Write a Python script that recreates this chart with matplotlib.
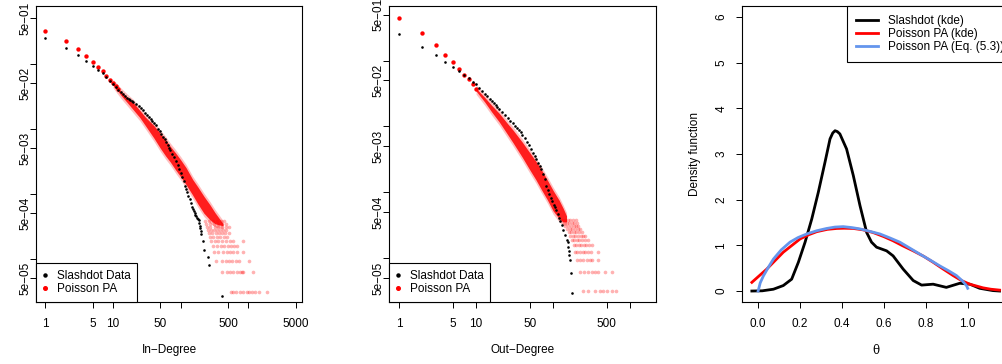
import matplotlib
matplotlib.use('Agg')
import matplotlib.pyplot as plt
import numpy as np
from matplotlib.lines import Line2D
from matplotlib.ticker import FixedLocator, FixedFormatter, NullLocator

plt.rcParams['font.family'] = ['Liberation Sans', 'DejaVu Sans']
plt.rcParams['font.size'] = 8.5

# ---------------- in-degree (log10 of fraction of nodes) ----------------
in_black_k = [1, 2, 3, 4, 5, 6, 7, 8, 9, 10,
              11, 12, 13, 14, 15, 16, 17, 18, 19, 20,
              22, 24, 26, 28, 30, 32, 34, 36, 38, 40,
              43, 46, 49, 52, 55, 58, 61, 64, 67, 70,
              75, 80, 85, 90, 95, 100, 105, 110, 115, 120, 125, 130, 135, 140, 145, 150,
              155, 160, 165, 170, 175, 180, 185, 188, 190, 193, 196, 200, 211, 223, 250, 262, 412]
in_black_lp = [-0.609, -0.763, -0.866, -0.963, -1.035, -1.092, -1.147, -1.209, -1.261, -1.312,
               -1.36, -1.40, -1.44, -1.47, -1.50, -1.52, -1.54, -1.56, -1.575, -1.59,
               -1.62, -1.65, -1.68, -1.71, -1.76, -1.79, -1.82, -1.85, -1.88, -1.91,
               -1.95, -2.00, -2.04, -2.08, -2.12, -2.16, -2.20, -2.25, -2.29, -2.33,
               -2.39, -2.44, -2.50, -2.56, -2.62, -2.68, -2.74, -2.81, -2.88, -2.93, -2.98, -3.03, -3.08, -3.14, -3.20, -3.24,
               -3.27, -3.30, -3.33, -3.35, -3.37, -3.39, -3.40, -3.45, -3.50, -3.53, -3.58, -3.62, -3.72, -3.87, -3.97, -4.10, -4.57]
in_red_k = [1, 2, 3, 4, 5, 6, 7, 8, 9, 10, 11, 12]
in_red_lp = [-0.492, -0.650, -0.773, -0.881, -0.973, -1.046, -1.117, -1.184, -1.245, -1.301, -1.345, -1.385]
in_band_k = [10, 13, 16, 20, 25, 30, 40, 50, 60, 70, 85, 100, 120, 150, 180, 220, 270, 320, 370, 420]
in_band_hi = [-1.29, -1.42, -1.51, -1.60, -1.72, -1.82, -1.95, -2.07, -2.17, -2.27, -2.38, -2.48, -2.60, -2.78, -2.90, -3.04, -3.17, -3.29, -3.38, -3.46]
in_band_lo = [-1.32, -1.48, -1.59, -1.71, -1.83, -1.95, -2.14, -2.30, -2.42, -2.51, -2.64, -2.74, -2.86, -3.02, -3.16, -3.30, -3.40, -3.46, -3.48, -3.49]
in_tail_count = [12, 11, 10, 9, 8, 7, 6, 5, 4, 3, 2, 1]
in_tail_k = [
    [230, 260, 300, 340, 390, 440],
    [240, 270, 310, 350, 400, 460],
    [245, 275, 320, 360, 410, 470, 520],
    [250, 280, 310, 340, 380, 420, 470],
    [260, 290, 330, 370, 410, 450, 520],
    [270, 300, 340, 380, 430, 480],
    [280, 320, 360, 410, 470, 540, 600, 820],
    [300, 340, 390, 440, 500, 560, 620, 670],
    [310, 360, 420, 480, 540, 600, 680, 840],
    [330, 400, 460, 520, 580, 650, 720, 1030],
    [403, 478, 535, 598, 671, 751, 796, 841, 1157],
    [553, 599, 649, 751, 841, 944, 1031, 1119, 1252, 1450, 1863],
]

# ---------------- out-degree ----------------
out_black_k = [1, 2, 3, 4, 5, 6, 7, 8, 9, 10,
               11, 12, 13, 14, 15, 16, 17, 18, 19, 20,
               22, 24, 26, 28, 30, 32, 34, 36, 38, 40,
               43, 46, 49, 52, 55, 58, 61, 64, 67, 70,
               74, 78, 82, 86, 90, 94, 98, 102, 106, 110, 115, 120, 125, 130, 136, 143, 150,
               155, 157, 160, 163, 166, 171, 174]
out_black_lp = [-0.599, -0.787, -0.913, -1.015, -1.093, -1.16, -1.22, -1.27, -1.32, -1.36,
                -1.41, -1.46, -1.50, -1.54, -1.58, -1.62, -1.65, -1.68, -1.71, -1.735,
                -1.78, -1.83, -1.87, -1.91, -1.95, -1.99, -2.03, -2.06, -2.09, -2.13,
                -2.18, -2.23, -2.28, -2.34, -2.40, -2.45, -2.50, -2.55, -2.60, -2.65,
                -2.72, -2.80, -2.91, -2.96, -3.02, -3.09, -3.14, -3.19, -3.23, -3.27, -3.33, -3.39, -3.44, -3.50, -3.57, -3.65, -3.72,
                -3.76, -3.83, -3.90, -3.96, -4.03, -4.23, -4.535]
out_red_k = [1, 2, 3, 4, 5, 6, 7, 8, 9, 10]
out_red_lp = [-0.347, -0.584, -0.766, -0.909, -1.022, -1.12, -1.21, -1.28, -1.36, -1.43]
out_band_k = [10, 13, 16, 20, 25, 30, 40, 50, 60, 70, 85, 100, 120, 135, 150]
out_band_hi = [-1.42, -1.56, -1.68, -1.80, -1.94, -2.05, -2.24, -2.40, -2.53, -2.65, -2.82, -2.97, -3.12, -3.24, -3.36]
out_band_lo = [-1.46, -1.63, -1.78, -1.93, -2.10, -2.24, -2.47, -2.66, -2.81, -2.95, -3.12, -3.28, -3.40, -3.45, -3.45]
out_tail_count = [12, 11, 10, 9, 8, 7, 6, 5, 4, 3, 2, 1]
out_tail_k = [
    [132, 142, 155, 168, 182, 196],
    [138, 150, 162, 175, 190, 205],
    [145, 158, 170, 185, 200, 212],
    [152, 165, 178, 192, 208, 224],
    [160, 172, 185, 200, 215, 237],
    [168, 180, 195, 210, 228, 245, 260],
    [176, 190, 205, 220, 240, 260, 288],
    [185, 200, 215, 230, 250, 270, 295, 318],
    [193, 207, 224, 243, 260, 288, 309, 388],
    [203, 224, 248, 274, 302, 318, 388],
    [224, 253, 288, 318, 351, 388, 473, 578],
    [248, 288, 351, 408, 450, 498, 578, 658],
]
n_red = 32000

# ---------------- theta densities ----------------
slash_theta = [-0.03, 0.02, 0.073, 0.12, 0.16, 0.192, 0.224, 0.256, 0.287, 0.319, 0.343, 0.356, 0.367,
               0.378, 0.39, 0.422, 0.454, 0.486, 0.518, 0.541, 0.565, 0.613, 0.644, 0.692, 0.74, 0.78,
               0.835, 0.898, 0.962, 1.01, 1.057, 1.12, 1.152]
slash_dens = [0.0, 0.005, 0.04, 0.12, 0.26, 0.63, 1.07, 1.58, 2.16, 2.82, 3.33, 3.46, 3.51,
              3.49, 3.44, 3.11, 2.53, 1.87, 1.28, 1.07, 0.96, 0.88, 0.77, 0.48, 0.23, 0.13,
              0.15, 0.08, 0.17, 0.15, 0.06, 0.01, 0.0]
pa_theta = [-0.03, 0.041, 0.12, 0.2, 0.24, 0.28, 0.33, 0.375, 0.41, 0.454, 0.5, 0.549, 0.6, 0.644,
            0.69, 0.74, 0.79, 0.835, 0.88, 0.93, 0.97, 1.01, 1.073, 1.11, 1.152]
pa_dens = [0.19, 0.48, 0.85, 1.14, 1.23, 1.30, 1.35, 1.37, 1.375, 1.37, 1.34, 1.28, 1.19, 1.10,
           0.99, 0.88, 0.76, 0.63, 0.49, 0.34, 0.23, 0.15, 0.07, 0.04, 0.02]
eq_theta = [0.0, 0.01, 0.025, 0.05, 0.073, 0.11, 0.152, 0.19, 0.232, 0.28, 0.327, 0.366, 0.406, 0.446,
            0.486, 0.53, 0.581, 0.63, 0.676, 0.72, 0.771, 0.82, 0.867, 0.91, 0.946, 0.975, 0.994, 1.0]
eq_dens = [0.0, 0.18, 0.33, 0.53, 0.70, 0.90, 1.07, 1.17, 1.25, 1.32, 1.37, 1.40, 1.41, 1.39,
           1.36, 1.31, 1.25, 1.16, 1.07, 0.95, 0.81, 0.68, 0.55, 0.44, 0.34, 0.22, 0.12, 0.06]

RED = '#FF0000'
BLUE = '#6495ED'

y_ticks = [5e-1, 1e-1, 5e-2, 1e-2, 5e-3, 1e-3, 5e-4, 1e-4, 5e-5]
y_labels = ['5e\u221201', '', '5e\u221202', '', '5e\u221203', '', '5e\u221204', '', '5e\u221205']


def degree_panel(ax, bk, blp, rk, rlp, band_k, band_hi, band_lo, t_count, t_k,
                 xlim, ylim, xt, xtl, xlabel):
    ax.set_xscale('log')
    ax.set_yscale('log')
    hi = np.array(band_hi)
    lo = np.array(band_lo)
    # simulated runs: soft halo, then the dense core
    ax.fill_between(band_k, 10 ** (hi + 0.05), 10 ** (lo - 0.05),
                    color=RED, alpha=0.25, linewidth=0)
    ax.fill_between(band_k, 10 ** hi, 10 ** lo, color=RED, alpha=0.85, linewidth=0)
    for c, ks in zip(t_count, t_k):
        ax.scatter(ks, [c / n_red] * len(ks), s=7, color=RED, alpha=0.3, linewidths=0)
    ax.scatter(rk, 10 ** np.array(rlp), s=10, color=RED, linewidths=0)
    ax.scatter(bk, 10 ** np.array(blp), s=3.5, color='black', linewidths=0, zorder=3)

    ax.set_xlim(xlim)
    ax.set_ylim(ylim)
    ax.xaxis.set_major_locator(FixedLocator(xt))
    ax.xaxis.set_major_formatter(FixedFormatter(xtl))
    ax.xaxis.set_minor_locator(NullLocator())
    ax.yaxis.set_major_locator(FixedLocator(y_ticks))
    ax.yaxis.set_major_formatter(FixedFormatter(y_labels))
    ax.yaxis.set_minor_locator(NullLocator())
    ax.tick_params(axis='x', length=4.5, width=0.7, pad=6.8)
    ax.tick_params(axis='y', length=4.5, width=0.7, pad=-1, labelrotation=90)
    for lab in ax.get_yticklabels():
        lab.set_va('center')
    ax.set_xlabel(xlabel)
    ax.xaxis.set_label_coords(0.5, -0.143)
    for sp in ax.spines.values():
        sp.set_linewidth(0.8)

    handles = [Line2D([], [], marker='o', ls='none', color='black', markersize=2.2),
               Line2D([], [], marker='o', ls='none', color=RED, markersize=2.6)]
    leg = ax.legend(handles, ['Slashdot Data', 'Poisson PA'], loc='lower left',
                    bbox_to_anchor=(0, 0), borderaxespad=0, fancybox=False,
                    framealpha=1, edgecolor='black', borderpad=0.6, labelspacing=0.1,
                    handlelength=0.4, handletextpad=0.75)
    leg.get_frame().set_linewidth(0.8)


fig = plt.figure(figsize=(10.03, 3.64), dpi=100)
H = 364.0
W = 1003.0
ax1 = fig.add_axes([36 / W, 62 / H, 266 / W, 296 / H])
ax2 = fig.add_axes([389 / W, 62 / H, 267 / W, 296 / H])
ax3 = fig.add_axes([742 / W, 62 / H, 267 / W, 296 / H])

degree_panel(ax1, in_black_k, in_black_lp, in_red_k, in_red_lp,
             in_band_k, in_band_hi, in_band_lo, in_tail_count, in_tail_k,
             (0.73, 6170), (2.16e-5, 0.773),
             [1, 5, 10, 50, 100, 500, 1000, 5000],
             ['1', '5', '10', '50', '', '500', '', '5000'], 'In\u2212Degree')
degree_panel(ax2, out_black_k, out_black_lp, out_red_k, out_red_lp,
             out_band_k, out_band_hi, out_band_lo, out_tail_count, out_tail_k,
             (0.74, 2177), (2.15e-5, 0.678),
             [1, 5, 10, 50, 100, 500, 1000],
             ['1', '5', '10', '50', '', '500', ''], 'Out\u2212Degree')

# density panel
ax3.plot(slash_theta, slash_dens, color='black', lw=2, label='Slashdot (kde)')
ax3.plot(pa_theta, pa_dens, color=RED, lw=2, label='Poisson PA (kde)')
ax3.plot(eq_theta, eq_dens, color=BLUE, lw=2, label='Poisson PA (Eq. (5.3))')
ax3.set_xlim(-0.077, 1.197)
ax3.set_ylim(-0.24, 6.24)
ax3.set_xticks([0.0, 0.2, 0.4, 0.6, 0.8, 1.0])
ax3.set_xticklabels(['0.0', '0.2', '0.4', '0.6', '0.8', '1.0'])
ax3.set_yticks([0, 1, 2, 3, 4, 5, 6])
ax3.tick_params(axis='x', length=4.5, width=0.7, pad=6.8)
ax3.tick_params(axis='y', length=4.5, width=0.7, pad=6, labelrotation=90)
for lab in ax3.get_yticklabels():
    lab.set_va('center')
ax3.set_xlabel('\u03b8', family=['DejaVu Serif'])
ax3.xaxis.set_label_coords(0.5, -0.143)
ax3.set_ylabel('Density function')
ax3.yaxis.set_label_coords(-0.154, 0.5)
for sp in ax3.spines.values():
    sp.set_linewidth(0.8)
leg = ax3.legend(loc='upper left', bbox_to_anchor=(0.393, 1.0), borderaxespad=0,
                 fancybox=False, framealpha=1, edgecolor='black', borderpad=0.75,
                 labelspacing=0.1, handlelength=1.9, handletextpad=0.85)
leg.get_frame().set_linewidth(0.8)

fig.savefig('out.png', dpi=100)
